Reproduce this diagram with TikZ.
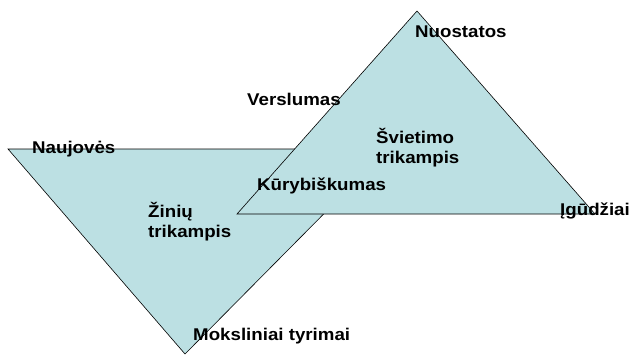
\documentclass[tikz,border=0pt]{standalone}
\usepackage{fontspec}
\setmainfont{Liberation Sans}[FakeStretch=1.1]
\definecolor{trifill}{RGB}{188,224,227}

\begin{document}
\begin{tikzpicture}[x=1pt, y=-1pt,
		tri/.style={draw=black, line width=0.6pt, fill=trifill},
		lbl/.style={anchor=base west, inner sep=0pt, align=left, font=\fontsize{17}{20}\selectfont\bfseries}]
			\useasboundingbox (0, 0) rectangle (634, 354);

			% corners of the two triangles
			\coordinate (z_l) at (8, 149);
			\coordinate (z_r) at (388, 149);
			\coordinate (z_b) at (185, 354);
			\coordinate (s_l) at (237, 214);
			\coordinate (s_t) at (417, 11);
			\coordinate (s_r) at (595, 214);

			\filldraw[tri] (z_l) -- (z_r) -- (z_b) -- cycle;
			\filldraw[tri] (s_l) -- (s_t) -- (s_r) -- cycle;

			% last line of a two-line label sits on the given baseline
			\draw (32, 153) 	node[lbl] 	(naujoves) 	{Naujovės};
			\draw (148, 237) 	node[lbl] 	(ziniu) 	{Žinių\\trikampis};
			\draw (193, 340) 	node[lbl] 	(tyrimai) 	{Moksliniai tyrimai};
			\draw (257, 190) 	node[lbl] 	(kuryb) 	{Kūrybiškumas};
			\draw (247, 105) 	node[lbl] 	(verslumas) 	{Verslumas};
			\draw (415, 37) 	node[lbl] 	(nuostatos) 	{Nuostatos};
			\draw (376, 163) 	node[lbl] 	(svietimo) 	{Švietimo\\trikampis};
			\draw (560, 215) 	node[lbl] 	(igudziai) 	{Įgūdžiai};
		\end{tikzpicture}
\end{document}
